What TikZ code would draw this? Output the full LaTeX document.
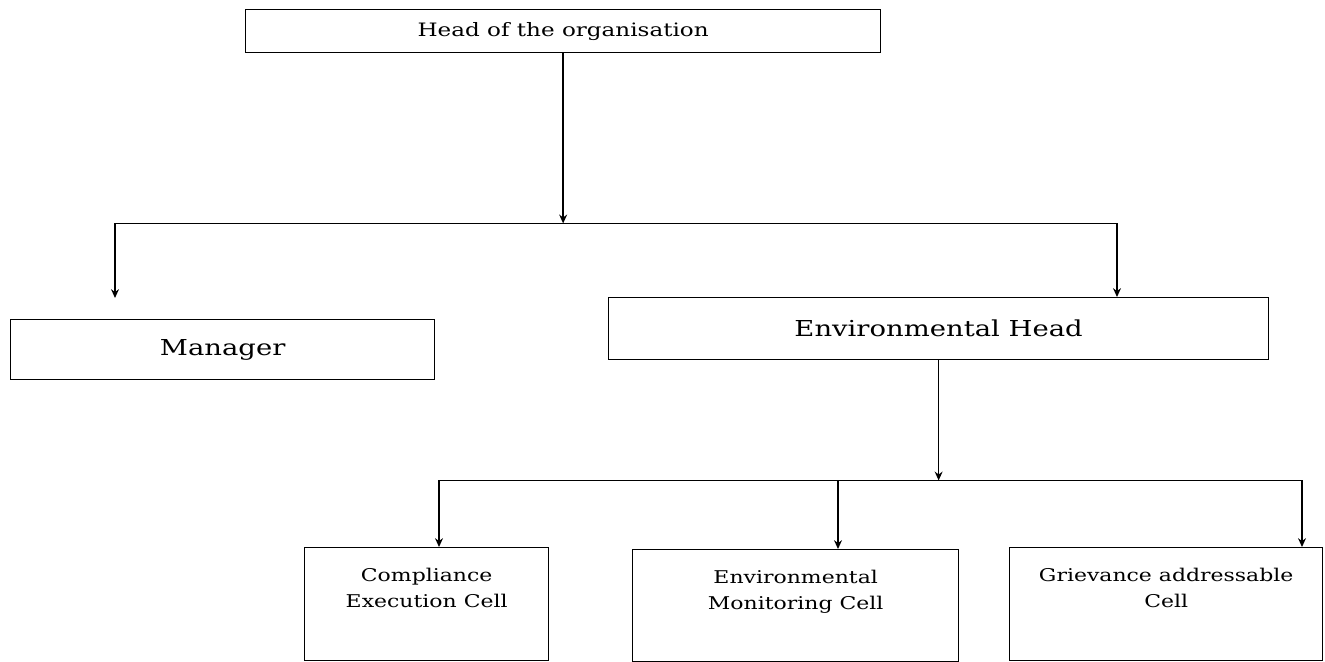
\documentclass[tikz,border=0pt]{standalone}
\usepackage{fontspec}
\setmainfont[FakeStretch=1.25]{DejaVu Serif}
\usetikzlibrary{arrows.meta, calc}
\tikzset{>={Stealth[length=5pt,width=4.5pt]}}
\tikzstyle{box} = [draw, line width=0.8pt, anchor=north west, inner sep=0pt]
\tikzstyle{cell} = [box, inner xsep=2pt, inner ysep=11.5pt, font=\fontsize{10}{14.7}\selectfont]
\tikzstyle{link} = [->, line width=0.8pt]
\newcommand{\celltext}[2]{\parbox[t][41pt][t]{#1}{\centering #2}}

\begin{document}
\begin{tikzpicture}[x=0.02cm, y=-0.02cm]
		% Frame
		\useasboundingbox (0,0) rectangle (1325,662);
		
		% Boxes
		\node[box, minimum width=12.7cm, minimum height=0.86cm, font=\fontsize{10.5}{12}\selectfont] (head) at (245,9) {Head of the organisation};
		\node[box, minimum width=8.48cm, minimum height=1.2cm, font=\fontsize{12.5}{14}\selectfont] (man) at (10,319) {Manager};
		\node[box, minimum width=13.2cm, minimum height=1.24cm, font=\fontsize{12.5}{14}\selectfont] (env) at (608,297) {Environmental Head};
		%% Cells
		\node[cell, minimum width=4.88cm, minimum height=2.26cm] (comp) at (304,547) {\celltext{4.4cm}{Compliance\\Execution Cell}};
		\node[cell, minimum width=6.52cm, minimum height=2.22cm] (mon) at (632,549) {\celltext{6cm}{Environmental\\Monitoring Cell}};
		\node[cell, minimum width=6.26cm, minimum height=2.26cm] (griev) at (1009,547) {\celltext{5.9cm}{Grievance addressable\\Cell}};
		
		% Coordinates
		\coordinate (j1) at ($(head.south)+(0,170)$);
		\coordinate (mt) at (115,298);
		\coordinate (et) at ($(env.north west)+(509,0)$);
		\coordinate (j2) at ($(env.south)+(0,120)$);
		
		% Links
		\draw[link] (head.south) -- (j1);
		\draw[link] (j1) -| (mt);
		\draw[link] (j1) -| (et);
		%
		\draw[link] (env.south) -- (j2);
		\draw[link] (j2) -| ($(comp.north west)+(135,0)$);
		\draw[link] (j2) -| ($(mon.north west)+(206,0)$);
		\draw[link] (j2) -| ($(griev.north west)+(293,0)$);
	\end{tikzpicture}
\end{document}
